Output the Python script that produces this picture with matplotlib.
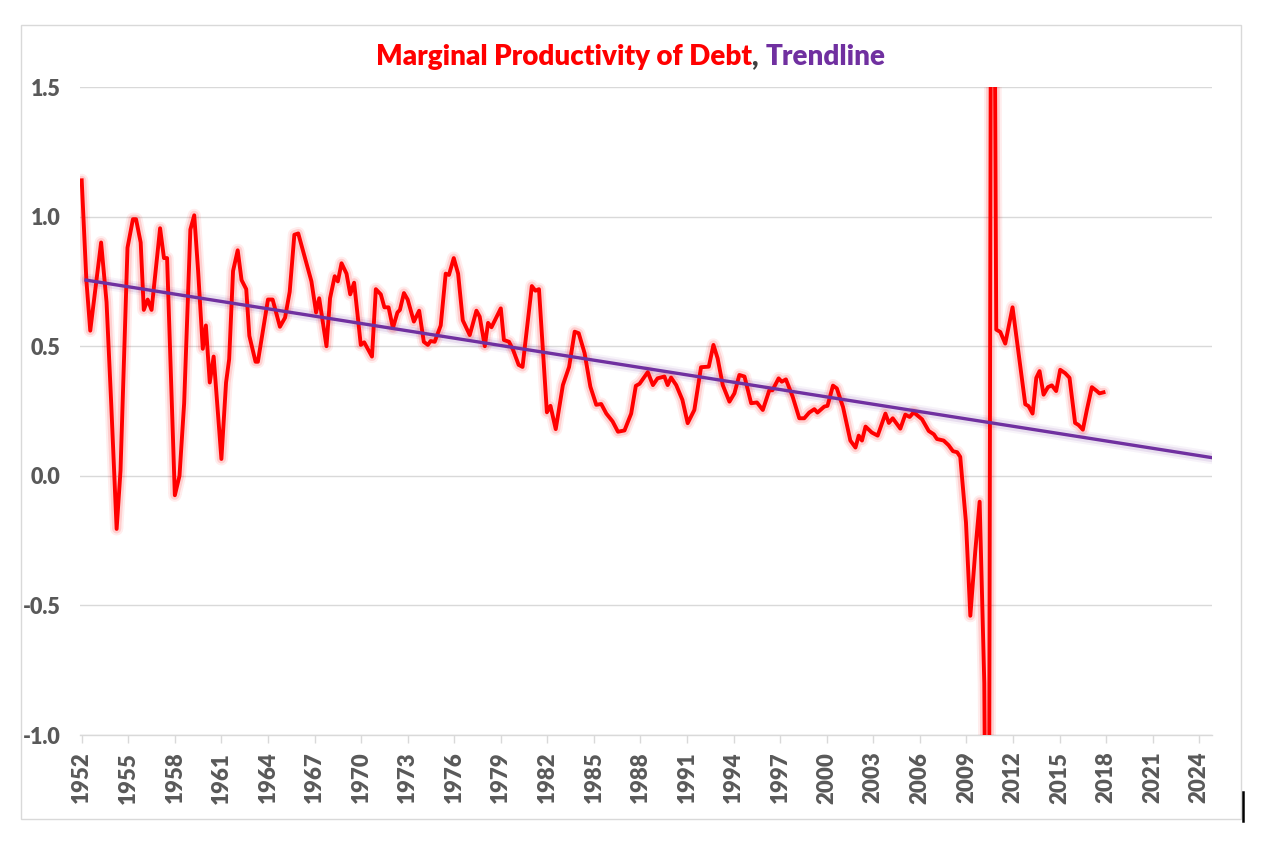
import matplotlib
matplotlib.use("Agg")
import matplotlib.pyplot as plt
from matplotlib.offsetbox import TextArea, HPacker, AnchoredOffsetbox
from matplotlib.patches import Rectangle
from matplotlib.lines import Line2D

# ---------------- data ----------------
years = [
    1952.0, 1952.3, 1952.55, 1953.25, 1953.6, 1953.9, 1954.25, 1954.5, 1954.95, 1955.3,
    1955.5, 1955.8, 1956.0, 1956.25, 1956.5, 1957.05, 1957.3, 1957.5, 1958.0, 1958.3,
    1958.6, 1959.0, 1959.25, 1959.5, 1959.8, 1960.0, 1960.25, 1960.5, 1961.0, 1961.3,
    1961.5, 1961.75, 1962.05, 1962.3, 1962.6, 1962.8, 1963.2, 1963.35, 1964.0, 1964.3,
    1964.77, 1965.1, 1965.4, 1965.7, 1965.95, 1966.27, 1966.8, 1967.1, 1967.3, 1967.77,
    1968.0, 1968.3, 1968.5, 1968.74, 1969.06, 1969.3, 1969.55, 1969.98, 1970.2, 1970.7,
    1970.95, 1971.27, 1971.5, 1971.77, 1972.05, 1972.34, 1972.5, 1972.76, 1973.0, 1973.4,
    1973.74, 1974.04, 1974.3, 1974.48, 1974.74, 1975.13, 1975.45, 1975.66, 1975.97, 1976.25,
    1976.55, 1977.0, 1977.43, 1977.64, 1977.97, 1978.18, 1978.4, 1979.0, 1979.2, 1979.53,
    1979.79, 1980.15, 1980.4, 1981.0, 1981.23, 1981.46, 1981.97, 1982.2, 1982.54, 1983.0,
    1983.4, 1983.76, 1984.02, 1984.4, 1984.77, 1985.15, 1985.47, 1985.8, 1986.2, 1986.55,
    1986.97, 1987.4, 1987.7, 1987.94, 1988.47, 1988.8, 1989.1, 1989.54, 1989.75, 1989.97,
    1990.3, 1990.7, 1991.04, 1991.47, 1991.9, 1992.4, 1992.7, 1992.97, 1993.3, 1993.73,
    1994.05, 1994.37, 1994.7, 1995.13, 1995.5, 1995.88, 1996.3, 1996.5, 1996.9, 1997.1,
    1997.37, 1997.8, 1998.23, 1998.55, 1998.87, 1999.2, 1999.4, 1999.84, 2000.05, 2000.4,
    2000.65, 2001.05, 2001.52, 2001.85, 2002.06, 2002.27, 2002.5, 2002.9, 2003.28, 2003.78,
    2004.0, 2004.25, 2004.74, 2005.06, 2005.34, 2005.6, 2006.14, 2006.57, 2006.9, 2007.1,
    2007.53, 2007.85, 2008.13, 2008.4, 2008.6, 2008.97, 2009.25, 2009.57, 2009.85, 2010.15,
    2010.4, 2010.65, 2010.92, 2011.18, 2011.5, 2011.97, 2012.36, 2012.79, 2013.0, 2013.26,
    2013.5, 2013.71, 2013.97, 2014.25, 2014.5, 2014.78, 2015.04, 2015.36, 2015.64, 2016.0,
    2016.22, 2016.5, 2016.76, 2017.08, 2017.4, 2017.57, 2017.83,
]
mpd = [
    1.14, 0.755, 0.56, 0.90, 0.67, 0.28, -0.205, 0.02, 0.88, 0.99,
    0.99, 0.90, 0.64, 0.68, 0.64, 0.955, 0.84, 0.84, -0.075, 0.0,
    0.28, 0.95, 1.005, 0.79, 0.49, 0.58, 0.36, 0.46, 0.065, 0.36,
    0.45, 0.79, 0.87, 0.755, 0.72, 0.54, 0.44, 0.44, 0.68, 0.68,
    0.575, 0.61, 0.71, 0.93, 0.935, 0.865, 0.75, 0.63, 0.685, 0.50,
    0.685, 0.77, 0.75, 0.82, 0.78, 0.70, 0.745, 0.505, 0.515, 0.46,
    0.72, 0.70, 0.65, 0.65, 0.57, 0.63, 0.64, 0.705, 0.68, 0.595,
    0.637, 0.517, 0.505, 0.52, 0.517, 0.58, 0.78, 0.775, 0.84, 0.78,
    0.60, 0.543, 0.637, 0.614, 0.50, 0.59, 0.573, 0.646, 0.524, 0.517,
    0.486, 0.428, 0.42, 0.732, 0.714, 0.72, 0.245, 0.27, 0.18, 0.35,
    0.42, 0.556, 0.55, 0.473, 0.344, 0.274, 0.277, 0.24, 0.21, 0.17,
    0.175, 0.24, 0.347, 0.355, 0.40, 0.35, 0.376, 0.383, 0.35, 0.379,
    0.35, 0.293, 0.203, 0.254, 0.419, 0.421, 0.505, 0.453, 0.35, 0.286,
    0.318, 0.389, 0.383, 0.28, 0.283, 0.254, 0.33, 0.33, 0.376, 0.363,
    0.372, 0.306, 0.222, 0.222, 0.244, 0.257, 0.244, 0.267, 0.27, 0.348,
    0.337, 0.265, 0.136, 0.109, 0.155, 0.136, 0.19, 0.167, 0.155, 0.24,
    0.204, 0.222, 0.182, 0.236, 0.227, 0.245, 0.218, 0.173, 0.16, 0.142,
    0.136, 0.118, 0.095, 0.091, 0.073, -0.18, -0.54, -0.29, -0.10, -0.80,
    -3.0, 4.0, 0.564, 0.555, 0.51, 0.65, 0.473, 0.276, 0.269, 0.24,
    0.378, 0.404, 0.313, 0.342, 0.349, 0.327, 0.409, 0.396, 0.378, 0.204,
    0.196, 0.178, 0.255, 0.342, 0.327, 0.318, 0.322,
]
trend_years = [1952.28, 2024.82]
trend_vals = [0.755, 0.07]

x_ticks = list(range(1952, 2025, 3))
x_labels = [str(y) for y in x_ticks]
y_ticks = [-1.0, -0.5, 0.0, 0.5, 1.0, 1.5]
y_labels = ["-1.0", "-0.5", "0.0", "0.5", "1.0", "1.5"]

RED = "#FF0000"
PURPLE = "#7030A0"
GRID = "#D9D9D9"
LABEL = "#595959"
FONT = "Lato"

W, H = 1271, 843
fig = plt.figure(figsize=(W / 100, H / 100), dpi=100)
fig.patch.set_facecolor("white")

# chart frame
fig.patches.append(Rectangle((21 / W, 1 - 819 / H), 1220 / W, (819 - 25) / H,
                             transform=fig.transFigure, fill=False,
                             edgecolor=GRID, lw=1.0))
# small black bar at bottom right
fig.lines.append(Line2D([1243 / W, 1243 / W], [1 - 821 / H, 1 - 792 / H],
                        transform=fig.transFigure, color="black", lw=1.8))

ax = fig.add_axes([80 / W, 1 - 735 / H, (1212 - 80) / W, (735 - 87) / H])
ax.set_xlim(1951.89, 2024.82)
ax.set_ylim(-1.0, 1.5)

# glow + main lines
for lw, a in [(9.5, 0.07), (6.5, 0.13)]:
    ax.plot(trend_years, trend_vals, color=PURPLE, lw=lw, alpha=a * 0.8,
            solid_capstyle="round", zorder=2)
    ax.plot(years, mpd, color=RED, lw=lw, alpha=a, solid_joinstyle="round",
            solid_capstyle="round", zorder=3)
ax.plot(years, mpd, color=RED, lw=2.8, solid_joinstyle="round", zorder=4)
ax.plot(trend_years, trend_vals, color=PURPLE, lw=2.4, zorder=5)

# axes styling
for s in ["top", "right", "left"]:
    ax.spines[s].set_visible(False)
ax.spines["bottom"].set_color(GRID)
ax.spines["bottom"].set_linewidth(1.0)
ax.set_yticks(y_ticks)
ax.set_yticklabels(y_labels)
ax.set_xticks(x_ticks)
ax.set_xticklabels(x_labels, rotation=90)
ax.tick_params(axis="y", length=0, pad=14, labelsize=15.5, labelcolor=LABEL)
ax.tick_params(axis="x", length=6, width=1.0, color=GRID, pad=6,
               labelsize=16, labelcolor=LABEL)
for t in ax.get_xticklabels() + ax.get_yticklabels():
    t.set_fontfamily(FONT)
    t.set_fontweight("heavy")
ax.yaxis.grid(True, color=GRID, lw=1.0, zorder=0)
ax.set_axisbelow(True)

# title with coloured parts
tp = dict(fontfamily=FONT, fontweight="heavy", fontsize=20)
parts = [TextArea("Marginal Productivity of Debt", textprops=dict(color=RED, **tp)),
         TextArea(", ", textprops=dict(color="#404040", **tp)),
         TextArea("Trendline", textprops=dict(color=PURPLE, **tp))]
box = HPacker(children=parts, align="baseline", pad=0, sep=0)
anch = AnchoredOffsetbox(loc="center", child=box, frameon=False, pad=0,
                         bbox_to_anchor=(631 / W, 1 - 57 / H),
                         bbox_transform=fig.transFigure, borderpad=0)
fig.add_artist(anch)

fig.savefig("out.png", dpi=100, facecolor="white")
